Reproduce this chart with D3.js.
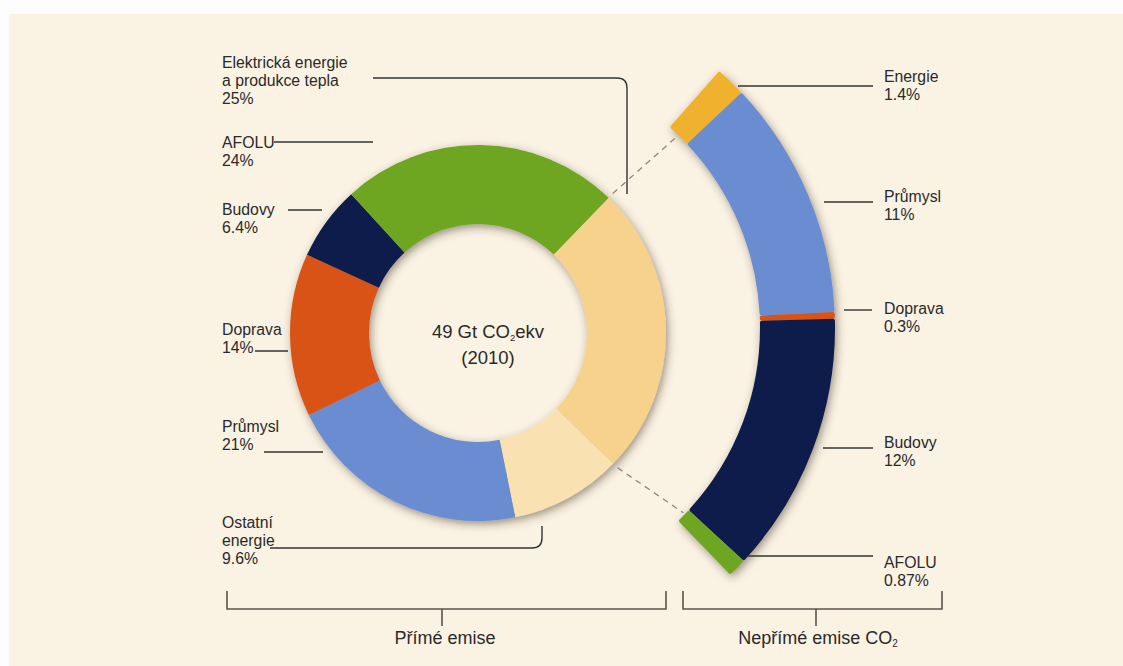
<!DOCTYPE html>
<html>
<head>
<meta charset="utf-8">
<script src="https://cdn.jsdelivr.net/npm/d3@7/dist/d3.min.js"></script>
<style>
  html, body { margin: 0; padding: 0; background: #fdfdfd; }
  svg { display: block; }
  text { font-family: "Liberation Sans", Arial, sans-serif; fill: #2a2a2a; }
</style>
</head>
<body>
<svg id="chart" width="1123" height="666"></svg>
<script>
// Direct emissions by sector (share of 49 Gt CO2eq, 2010)
const directCategories = [
  ["Elektrická energie", "a produkce tepla"],
  ["Ostatní", "energie"],
  ["Průmysl"],
  ["Doprava"],
  ["Budovy"],
  ["AFOLU"]
];
const directValues = [25, 9.6, 21, 14, 6.4, 24];
const directColors = ["#f7d28c", "#f9e1b1", "#6a8dd2", "#d95316", "#0b1f4b", "#6ea623"];

// Indirect CO2 emissions (reallocated from electricity and heat)
const indirectCategories = ["Energie", "Průmysl", "Doprava", "Budovy", "AFOLU"];
const indirectValues = [1.4, 11, 0.3, 12, 0.87];
const indirectColors = ["#f0b12e", "#6a8dd2", "#d95316", "#0b1f4b", "#6ea623"];

const groupLabels = ["Přímé emise", "Nepřímé emise CO"];
const centerLines = ["49 Gt CO", "(2010)"];

const svg = d3.select("#chart");
const deg = Math.PI / 180;

// Panel background
svg.append("rect").attr("x", 9).attr("y", 14).attr("width", 1114).attr("height", 652)
  .attr("fill", "#faf2e3");

// Soft shadow under the rings
const defs = svg.append("defs");
const f = defs.append("filter").attr("id", "shadow")
  .attr("x", "-20%").attr("y", "-20%").attr("width", "140%").attr("height", "140%");
f.append("feDropShadow").attr("dx", 2).attr("dy", 3).attr("stdDeviation", 4.5)
  .attr("flood-color", "#3a3020").attr("flood-opacity", 0.5);

// ---- Direct emissions donut ----
const cx = 478, cy = 333, rOuter = 188, rInner = 109;
const pieDirect = d3.pie().sort(null).value(d => d)
  .startAngle(44 * deg).endAngle(404 * deg);
const arcDirect = d3.arc().innerRadius(rInner).outerRadius(rOuter);
const directArcs = pieDirect(directValues);

const gDonut = svg.append("g").attr("transform", `translate(${cx},${cy})`)
  .attr("filter", "url(#shadow)");
gDonut.selectAll("path").data(directArcs).join("path")
  .attr("d", arcDirect)
  .attr("fill", (d, i) => directColors[i]);

// Center caption
const cap = svg.append("text").attr("x", 488).attr("y", 338)
  .attr("text-anchor", "middle").attr("font-size", 18.5);
cap.append("tspan").text(centerLines[0]);
cap.append("tspan").text("2").attr("font-size", 9.5).attr("dy", 3);
cap.append("tspan").text("ekv").attr("dy", -3);
svg.append("text").attr("x", 488).attr("y", 364).attr("text-anchor", "middle")
  .attr("font-size", 18.5).text(centerLines[1]);

// ---- Indirect emissions arc band ----
const ax = 492, ay = 328, aInner = 268, aOuter = 343;
const pieIndirect = d3.pie().sort(null).value(d => d)
  .startAngle(41.5 * deg).endAngle(136 * deg);
const arcIndirect = d3.arc().innerRadius(aInner).outerRadius(aOuter).cornerRadius(2);
const indirectArcs = pieIndirect(indirectValues);

// Dashed connectors from the electricity slice to the band
const elec = directArcs[0];
[elec.startAngle, elec.endAngle].forEach(a => {
  svg.append("line")
    .attr("x1", cx + Math.sin(a) * (rOuter + 6)).attr("y1", cy - Math.cos(a) * (rOuter + 6))
    .attr("x2", ax + Math.sin(a) * (aInner - 2)).attr("y2", ay - Math.cos(a) * (aInner - 2))
    .attr("stroke", "#8a8580").attr("stroke-width", 1.3).attr("stroke-dasharray", "6,5");
});

const gBand = svg.append("g").attr("transform", `translate(${ax},${ay})`)
  .attr("filter", "url(#shadow)");
gBand.selectAll("path").data(indirectArcs).join("path")
  .attr("d", arcIndirect)
  .attr("fill", (d, i) => indirectColors[i]);

// ---- Labels and leader lines ----
function leader(d) {
  svg.append("path").attr("d", d)
    .attr("stroke", "#333").attr("stroke-width", 1.4).attr("fill", "none");
}
function label(x, y, lines) {
  const t = svg.append("text").attr("x", x).attr("y", y).attr("font-size", 15.8);
  lines.forEach((s, i) => t.append("tspan").attr("x", x).attr("dy", i === 0 ? 0 : 18.2).text(s));
}

// left-hand labels (first baseline per slice) and their leaders
const directLabelY = [68, 528, 432, 335, 215, 148];
const directLeaders = [
  "M373,78 H617 Q627,78 627,88 V194",
  "M270,548 H532 Q542,548 542,538 V526",
  "M264,452 H323",
  "M255,351 H288",
  "M288,210 H322",
  "M274,142 H373"
];
directValues.forEach((v, i) => {
  label(222, directLabelY[i], directCategories[i].concat([v + "%"]));
  leader(directLeaders[i]);
});

// right-hand labels for the indirect band
const indirectLabelY = [82, 202, 314, 448, 568];
const indirectLeaders = [
  "M738,86 H873",
  "M824,202 H873",
  "M844,310 H872",
  "M823,448 H873",
  "M748,556 H873"
];
indirectValues.forEach((v, i) => {
  label(884, indirectLabelY[i], [indirectCategories[i], v + "%"]);
  leader(indirectLeaders[i]);
});

// ---- Group brackets ----
const brackets = [
  { x0: 227, x1: 666, mid: 442 },
  { x0: 683, x1: 942, mid: 816 }
];
brackets.forEach(b => {
  svg.append("path")
    .attr("d", `M${b.x0},591 V609 H${b.x1} V591 M${b.mid},609 V626`)
    .attr("stroke", "#5a544c").attr("stroke-width", 1.6).attr("fill", "none");
});
svg.append("text").attr("x", 445).attr("y", 644).attr("text-anchor", "middle")
  .attr("font-size", 18).text(groupLabels[0]);
const g2 = svg.append("text").attr("x", 818).attr("y", 644).attr("text-anchor", "middle")
  .attr("font-size", 18);
g2.append("tspan").text(groupLabels[1]);
g2.append("tspan").text("2").attr("font-size", 10).attr("dy", 3);
</script>
</body>
</html>
